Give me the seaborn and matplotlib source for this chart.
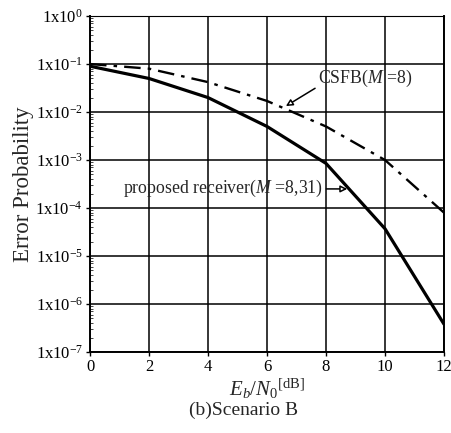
import numpy as np
import pandas as pd
import seaborn as sns
import matplotlib
matplotlib.use("Agg")
import matplotlib.pyplot as plt
from matplotlib.ticker import FixedLocator, FixedFormatter, LogLocator, NullFormatter

snr_db = [0, 2, 4, 6, 8, 10, 12]
proposed = [0.09, 0.05, 0.02, 5e-3, 8.5e-4, 3.7e-5, 3.8e-7]
csfb = [0.1, 0.08, 0.042, 0.017, 5e-3, 1e-3, 8e-5]
yticks = [1e0, 1e-1, 1e-2, 1e-3, 1e-4, 1e-5, 1e-6, 1e-7]
ytick_labels = ["1x10$^{0}$", "1x10$^{-1}$", "1x10$^{-2}$", "1x10$^{-3}$",
                "1x10$^{-4}$", "1x10$^{-5}$", "1x10$^{-6}$", "1x10$^{-7}$"]
xticks = [0, 2, 4, 6, 8, 10, 12]

sns.set_theme(style="ticks")
plt.rcParams["font.family"] = ["Liberation Serif", "DejaVu Serif"]
plt.rcParams["mathtext.fontset"] = "custom"
plt.rcParams["mathtext.rm"] = "Liberation Serif"
plt.rcParams["mathtext.it"] = "Liberation Serif:italic"
plt.rcParams["mathtext.bf"] = "Liberation Serif:bold"

df_p = pd.DataFrame({"x": snr_db, "y": proposed})
df_c = pd.DataFrame({"x": snr_db, "y": csfb})

fig = plt.figure(figsize=(4.51, 4.33), dpi=100)
ax = fig.add_axes([0.1996, 0.187, 0.7849, 0.776])

sns.lineplot(data=df_p, x="x", y="y", ax=ax, color="black", linewidth=2.3)
sns.lineplot(data=df_c, x="x", y="y", ax=ax, color="black", linewidth=1.7,
             linestyle=(0, (7, 3, 1.5, 3)))

ax.set_yscale("log")
ax.set_xlim(0, 12)
ax.set_ylim(1e-7, 1e0)
ax.yaxis.set_major_locator(FixedLocator(yticks))
ax.yaxis.set_major_formatter(FixedFormatter(ytick_labels))
ax.yaxis.set_minor_locator(LogLocator(base=10, subs=np.arange(2, 10), numticks=20))
ax.yaxis.set_minor_formatter(NullFormatter())
ax.set_xticks(xticks)
ax.set_xticklabels([str(v) for v in xticks])

ax.grid(True, which="major", color="black", linewidth=1.1)
for s in ax.spines.values():
    s.set_color("black")
    s.set_linewidth(1.4)
ax.spines["top"].set_linewidth(0.8)
ax.tick_params(axis="both", which="major", direction="out", length=3, width=1,
               labelsize=12, colors="black", pad=2)
ax.tick_params(axis="y", which="minor", direction="in", length=2, width=0.6)

ax.set_ylabel("Error Probability", fontsize=16.5, labelpad=1)
ax.set_xlabel("$E_b/N_0{}^{\\mathrm{[dB]}}$", fontsize=15, labelpad=1)
fig.text(0.54, 0.072, "(b)Scenario B", ha="center", va="top", fontsize=14)

arrowprops = dict(arrowstyle="-|>", color="black", lw=1.1, fc="white",
                  mutation_scale=10)
ax.annotate("CSFB($M$ =8)", xy=(6.64, 1.33e-2), xytext=(7.74, 4.9e-2),
            ha="left", va="center", fontsize=12.8,
            arrowprops=dict(arrowprops, relpos=(0.0, 0.15), shrinkA=0, shrinkB=0))
ax.annotate("proposed receiver($M$ =8,31)", xy=(8.72, 2.5e-4), xytext=(1.12, 2.5e-4),
            ha="left", va="center", fontsize=12.8,
            arrowprops=dict(arrowprops, shrinkA=0, shrinkB=0))

fig.savefig("out.png", dpi=100)
